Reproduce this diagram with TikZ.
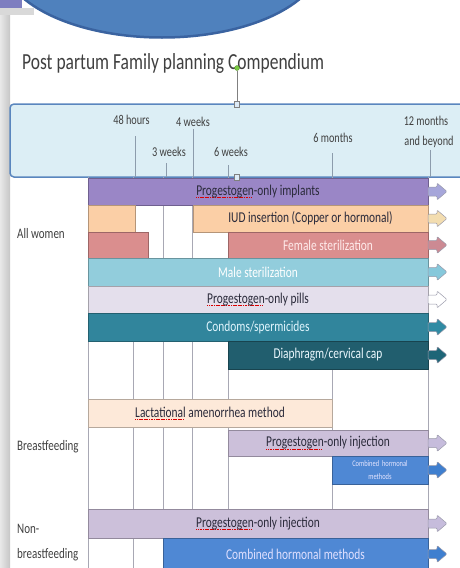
\documentclass[tikz,border=0pt]{standalone}
\usepackage{fontspec}
\setmainfont[FakeStretch=0.76]{Carlito}
\usetikzlibrary{shapes.geometric}
\definecolor{cBadge}{HTML}{4F81BD}
\definecolor{cBadgeB}{HTML}{3A63A0}
\definecolor{cTitle}{HTML}{404040}
\definecolor{cHdr}{HTML}{DCEEF5}
\definecolor{cHdrB}{HTML}{5A86BE}
\definecolor{cTick}{HTML}{8C9CAC}
\definecolor{cGrid}{HTML}{A8A8B4}
\definecolor{cImpl}{HTML}{9A86C6}
\definecolor{cIUD}{HTML}{FBCFA6}
\definecolor{cFem}{HTML}{DA8E8E}
\definecolor{cMale}{HTML}{92CDDC}
\definecolor{cPill}{HTML}{E4DFEC}
\definecolor{cCond}{HTML}{31859C}
\definecolor{cDia}{HTML}{215E6E}
\definecolor{cLAM}{HTML}{FDE9D9}
\definecolor{cInj}{HTML}{CCC0DA}
\definecolor{cComb}{HTML}{4F88D4}
\definecolor{aImpl}{HTML}{A6A6DA}
\definecolor{aIUD}{HTML}{F3DDB0}
\definecolor{aFem}{HTML}{CC8A93}
\definecolor{aMale}{HTML}{86C8DB}
\definecolor{aCond}{HTML}{2F8AA3}
\definecolor{aDia}{HTML}{1E6577}
\definecolor{aInj}{HTML}{C6BCDC}
\definecolor{aComb}{HTML}{3F7FCF}
\definecolor{aLine}{HTML}{9A9AAA}
\definecolor{tDark}{HTML}{2A2A3A}
\definecolor{tLab}{HTML}{3F3F3F}
\definecolor{cHandle}{HTML}{DDEBF7}
\definecolor{cRot}{HTML}{7AC943}
\definecolor{cCorner}{HTML}{7E7EC0}
\newcommand\spl[1]{\setbox0\hbox{#1}\rlap{\hbox to\wd0{\color{red!85!black}\leaders\hbox{\rule[-2.4pt]{1.2pt}{0.6pt}\hspace{0.5pt}}\hfill}}\box0\relax}
\newcommand\barfont{\fontsize{15}{17}\selectfont}
\newcommand\hdrfont{\fontsize{13.5}{15}\selectfont}
\newcommand\labfont{\fontsize{14.5}{25}\selectfont}
\newcommand\barrow[2]{\draw[arr,fill=#2] (#1.east) ++(0,-4.5) -- ++(9,0) -- ++(0,-4) -- ++(10,8.5) -- ++(-10,8.5) -- ++(0,-4) -- ++(-9,0) -- cycle;}
\begin{document}
\begin{tikzpicture}[x=1pt,y=-1pt,
  bar/.style={draw=#1!72!black, fill=#1, line width=0.5pt, inner sep=0pt, outer sep=0pt, font=\barfont},
  arr/.style={draw=aLine, line width=0.5pt, rounded corners=1pt},
  tick/.style={draw=cTick, line width=0.8pt},
  gridl/.style={draw=cGrid, line width=0.8pt},
  hdrlab/.style={font=\hdrfont, text=cTitle, inner sep=0pt},
  rowlab/.style={font=\labfont, text=tLab, inner sep=0pt, anchor=west, align=left},
  handle/.style={draw=gray, fill=cHandle, line width=0.4pt, minimum width=5pt, minimum height=6pt, inner sep=0pt}]
\useasboundingbox (0,0) rectangle (459,568);
% slide frame bits
\fill[left color=gray!18, right color=gray!45] (0,14) rectangle (10,568);
\fill[gray!30] (0,8) rectangle (34,15);
\fill[cCorner] (0,0) rectangle (22,8);
% badge
\node[ellipse, fill=cBadge, draw=cBadgeB, line width=2.5pt, minimum width=320pt, minimum height=157pt, inner sep=0pt] (badge) at (162,-41) {};
% title
\node[anchor=base west, font=\fontsize{23}{26}\selectfont, text=cTitle, inner sep=0pt] (title) at (22,69) {Post partum Family planning Compendium};
% header box
\node[draw=cHdrB, fill=cHdr, line width=1.5pt, rounded corners=4pt, minimum width=600pt, minimum height=73pt, inner sep=0pt, outer sep=0pt] (hdr) at (310,140.5) {};
\node[hdrlab] (l48) at (131.5,120) {48 hours};
\node[hdrlab] (l4w) at (193,122) {4 weeks};
\node[hdrlab] (l3w) at (169,152) {3 weeks};
\node[hdrlab] (l6w) at (231,152) {6 weeks};
\node[hdrlab] (l6m) at (333,138) {6 months};
\node[hdrlab] (l12) at (426,121) {12 months};
\node[hdrlab] (lab) at (429,142) {and beyond};
\coordinate (k1) at (135,136);
\coordinate (k2) at (166,163);
\coordinate (k3) at (193,129);
\coordinate (k4) at (228,165);
\coordinate (k5) at (332,153);
\coordinate (k6) at (430,150);
\foreach \k in {k1,k2,k3,k4,k5,k6} \draw[tick] (\k) -- (\k |- hdr.south);
% grid
\foreach \x in {88,133,163,192,228,332,428} \draw[gridl] (\x,177) -- (\x,568);
% bars
\node[bar=cImpl, text=tDark, minimum width=340pt, minimum height=27pt] (impl) at (258,191.5) {\spl{Progestogen}-only implants};
\node[bar=cIUD, minimum width=47pt, minimum height=27pt] (iuda) at (111.5,218.5) {};
\node[bar=cIUD, text=tDark, minimum width=235pt, minimum height=27pt] (iud) at (310.5,218.5) {IUD insertion (Copper or hormonal)};
\node[bar=cFem, minimum width=60pt, minimum height=26pt] (fema) at (118,245) {};
\node[bar=cFem, text=white!92!red, minimum width=200pt, minimum height=26pt] (fem) at (328,245) {Female sterilization};
\node[bar=cMale, text=white, minimum width=340pt, minimum height=28pt] (male) at (258,272) {Male sterilization};
\node[bar=cPill, text=tDark, minimum width=340pt, minimum height=27pt] (pill) at (258,299.5) {\spl{Progestogen}-only pills};
\node[bar=cCond, text=white!88!cyan, minimum width=340pt, minimum height=28pt] (cond) at (258,327) {Condoms/spermicides};
\node[bar=cDia, text=white!92!cyan, minimum width=200pt, minimum height=28pt] (dia) at (328,355) {Diaphragm/cervical cap};
\node[bar=cLAM, text=tDark, minimum width=244pt, minimum height=28pt] (lam) at (210,413) {\spl{Lactational} amenorrhea method};
\node[bar=cInj, text=tDark, minimum width=200pt, minimum height=26pt] (injb) at (328,443) {\spl{Progestogen}-only injection};
\node[bar=cComb, text=white!90!blue, minimum width=96pt, minimum height=28pt, align=center, font=\fontsize{8.5}{13}\selectfont] (combs) at (380,470) {Combined\ \ hormonal\\methods};
\node[bar=cInj, text=tDark, minimum width=340pt, minimum height=29pt] (injn) at (258,523.5) {\spl{Progestogen}-only injection};
\node[bar=cComb, text=white!88!blue, minimum width=265pt, minimum height=32pt] (comb) at (295.5,554) {Combined hormonal methods};
% arrows
\barrow{impl}{aImpl}
\barrow{iud}{aIUD}
\barrow{fem}{aFem}
\barrow{male}{aMale}
\barrow{pill}{white}
\barrow{cond}{aCond}
\barrow{dia}{aDia}
\barrow{injb}{aInj}
\barrow{combs}{aComb}
\barrow{injn}{aInj}
\barrow{comb}{aComb}
% row labels
\node[rowlab] (allw) at (17,234) {All women};
\node[rowlab] (bf) at (17,447) {Breastfeeding};
\node[rowlab] (nbf) at (17,543) {Non-\\breastfeeding};
% selection handles
\node[handle] (h1) at (237,104) {};
\node[handle] (h2) at (237,177) {};
\node[circle, fill=cRot, draw=cRot!70!black, line width=0.3pt, minimum size=5pt, inner sep=0pt] (rot) at (237,68) {};
\draw[gray, line width=0.5pt] (rot) -- (h1);
\end{tikzpicture}
\end{document}
